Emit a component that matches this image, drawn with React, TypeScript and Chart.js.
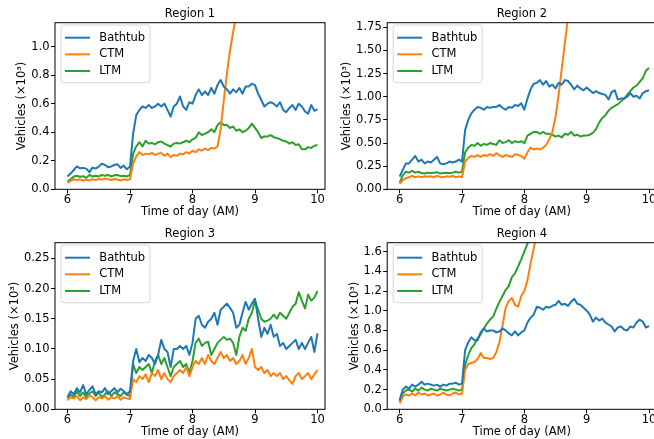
import React, { useEffect, useRef } from "react";
import { Chart, registerables } from "chart.js";

Chart.register(...registerables);

const FONT_FAMILY = '"DejaVu Sans", "Liberation Sans", sans-serif';

// Time of day (hours, AM)
const times = [
  6.00, 6.05, 6.10, 6.15, 6.20, 6.25, 6.30, 6.35, 6.40, 6.45, 6.50, 6.55, 6.60, 6.65, 6.70, 6.75, 6.80, 6.85, 6.90, 6.95,
  7.00, 7.05, 7.10, 7.15, 7.20, 7.25, 7.30, 7.35, 7.40, 7.45, 7.50, 7.55, 7.60, 7.65, 7.70, 7.75, 7.80, 7.85, 7.90, 7.95,
  8.00, 8.05, 8.10, 8.15, 8.20, 8.25, 8.30, 8.35, 8.40, 8.45, 8.50, 8.55, 8.60, 8.65, 8.70, 8.75, 8.80, 8.85, 8.90, 8.95,
  9.00, 9.05, 9.10, 9.15, 9.20, 9.25, 9.30, 9.35, 9.40, 9.45, 9.50, 9.55, 9.60, 9.65, 9.70, 9.75, 9.80, 9.85, 9.90, 9.95,
  10.00,
];

const seriesNames = ["Bathtub", "CTM", "LTM"];
const seriesColors = ["#1f77b4", "#ff7f0e", "#2ca02c"];
const xTicks = [6, 7, 8, 9, 10];
const xTitle = "Time of day (AM)";
const yTitle = "Vehicles (×10³)";

// Region 1
const r1Bathtub = [
  0.09, 0.11, 0.135, 0.16, 0.147, 0.15, 0.145, 0.12, 0.152, 0.145, 0.159, 0.18, 0.17, 0.155, 0.16, 0.17, 0.175, 0.15, 0.166, 0.14,
  0.16, 0.39, 0.52, 0.556, 0.58, 0.57, 0.59, 0.57, 0.58, 0.60, 0.58, 0.60, 0.556, 0.51, 0.58, 0.60, 0.65, 0.58, 0.556, 0.61,
  0.60, 0.66, 0.70, 0.66, 0.685, 0.66, 0.71, 0.67, 0.73, 0.766, 0.72, 0.70, 0.67, 0.70, 0.68, 0.71, 0.67, 0.72, 0.72, 0.74,
  0.73, 0.67, 0.626, 0.58, 0.60, 0.61, 0.60, 0.58, 0.61, 0.556, 0.54, 0.57, 0.59, 0.556, 0.60, 0.58, 0.545, 0.53, 0.59, 0.55,
  0.56,
];
const r1Ctm = [
  0.045, 0.06, 0.07, 0.065, 0.07, 0.06, 0.068, 0.062, 0.07, 0.065, 0.072, 0.068, 0.075, 0.07, 0.065, 0.072, 0.068, 0.062, 0.07, 0.065,
  0.07, 0.18, 0.23, 0.26, 0.24, 0.25, 0.245, 0.255, 0.24, 0.25, 0.255, 0.235, 0.25, 0.225, 0.24, 0.235, 0.25, 0.245, 0.26, 0.25,
  0.27, 0.26, 0.28, 0.27, 0.285, 0.275, 0.29, 0.285, 0.30, 0.42, 0.62, 0.81, 0.97, 1.10, 1.22, 1.36, 1.52, 1.68, 1.84, 2.00,
  2.16, 2.32, 2.48, 2.64, 2.80, 2.96, 3.12, 3.28, 3.44, 3.60, 3.76, 3.92, 4.08, 4.24, 4.40, 4.56, 4.72, 4.88, 5.04, 5.20,
  5.36,
];
const r1Ltm = [
  0.055, 0.07, 0.09, 0.095, 0.088, 0.092, 0.08, 0.10, 0.09, 0.095, 0.09, 0.10, 0.095, 0.10, 0.09, 0.098, 0.10, 0.092, 0.095, 0.09,
  0.10, 0.25, 0.30, 0.33, 0.30, 0.34, 0.32, 0.325, 0.315, 0.33, 0.335, 0.32, 0.31, 0.30, 0.32, 0.325, 0.32, 0.33, 0.34, 0.33,
  0.35, 0.36, 0.40, 0.38, 0.39, 0.40, 0.42, 0.40, 0.45, 0.47, 0.45, 0.45, 0.43, 0.44, 0.41, 0.42, 0.40, 0.41, 0.43, 0.46,
  0.43, 0.40, 0.36, 0.37, 0.37, 0.38, 0.365, 0.36, 0.35, 0.34, 0.335, 0.32, 0.33, 0.31, 0.315, 0.28, 0.28, 0.295, 0.29, 0.305,
  0.31,
];
const r1YTicks = [0, 0.2, 0.4, 0.6, 0.8, 1.0];

// Region 2
const r2Bathtub = [
  0.137, 0.21, 0.28, 0.28, 0.32, 0.36, 0.30, 0.32, 0.28, 0.30, 0.29, 0.32, 0.35, 0.28, 0.27, 0.28, 0.30, 0.29, 0.30, 0.32,
  0.30, 0.64, 0.75, 0.82, 0.86, 0.89, 0.88, 0.86, 0.89, 0.88, 0.89, 0.89, 0.91, 0.88, 0.86, 0.89, 0.88, 0.91, 0.90, 0.93,
  0.86, 0.98, 1.08, 1.14, 1.15, 1.18, 1.13, 1.17, 1.11, 1.13, 1.09, 1.15, 1.13, 1.18, 1.17, 1.13, 1.08, 1.12, 1.09, 1.07,
  1.10, 1.07, 1.04, 1.06, 1.04, 1.03, 1.02, 0.97, 1.05, 1.07, 0.97, 0.98, 0.98, 1.00, 1.04, 1.00, 1.01, 0.98, 1.04, 1.06,
  1.07,
];
const r2Ctm = [
  0.06, 0.10, 0.12, 0.13, 0.145, 0.13, 0.14, 0.13, 0.14, 0.135, 0.14, 0.13, 0.145, 0.135, 0.13, 0.14, 0.135, 0.145, 0.13, 0.14,
  0.13, 0.30, 0.34, 0.36, 0.35, 0.37, 0.35, 0.37, 0.36, 0.38, 0.36, 0.39, 0.37, 0.35, 0.37, 0.36, 0.35, 0.38, 0.37, 0.36,
  0.33, 0.40, 0.45, 0.43, 0.44, 0.43, 0.45, 0.48, 0.54, 0.62, 0.78, 1.02, 1.30, 1.58, 1.85, 2.12, 2.40, 2.68, 2.96, 3.24,
  3.52, 3.80, 4.08, 4.36, 4.64, 4.92, 5.20, 5.48, 5.76, 6.04, 6.32, 6.60, 6.88, 7.16, 7.44, 7.72, 8.00, 8.28, 8.56, 8.84,
  9.12,
];
const r2Ltm = [
  0.07, 0.15, 0.19, 0.18, 0.20, 0.18, 0.19, 0.175, 0.17, 0.18, 0.175, 0.18, 0.185, 0.17, 0.175, 0.18, 0.175, 0.18, 0.19, 0.18,
  0.19, 0.40, 0.45, 0.48, 0.47, 0.50, 0.47, 0.49, 0.48, 0.50, 0.49, 0.48, 0.53, 0.50, 0.51, 0.53, 0.50, 0.52, 0.51, 0.52,
  0.50, 0.58, 0.60, 0.62, 0.62, 0.60, 0.62, 0.60, 0.60, 0.59, 0.57, 0.58, 0.56, 0.60, 0.59, 0.62, 0.58, 0.59, 0.57, 0.58,
  0.58, 0.59, 0.61, 0.65, 0.72, 0.77, 0.80, 0.85, 0.88, 0.90, 0.92, 0.95, 0.98, 1.02, 1.06, 1.10, 1.12, 1.16, 1.20, 1.28,
  1.31,
];
const r2YTicks = [0, 0.25, 0.5, 0.75, 1.0, 1.25, 1.5, 1.75];

// Region 3
const r3Bathtub = [
  0.02, 0.03, 0.025, 0.035, 0.028, 0.04, 0.025, 0.032, 0.038, 0.025, 0.03, 0.028, 0.035, 0.025, 0.03, 0.035, 0.028, 0.034, 0.03, 0.025,
  0.03, 0.08, 0.10, 0.078, 0.085, 0.08, 0.09, 0.085, 0.075, 0.09, 0.115, 0.10, 0.095, 0.07, 0.10, 0.10, 0.105, 0.10, 0.105, 0.09,
  0.11, 0.15, 0.155, 0.14, 0.135, 0.145, 0.15, 0.16, 0.14, 0.165, 0.17, 0.175, 0.168, 0.16, 0.135, 0.14, 0.16, 0.178, 0.165, 0.175,
  0.183, 0.15, 0.12, 0.135, 0.125, 0.14, 0.12, 0.125, 0.105, 0.11, 0.10, 0.105, 0.11, 0.115, 0.10, 0.11, 0.10, 0.11, 0.12, 0.095,
  0.126,
];
const r3Ctm = [
  0.015, 0.02, 0.018, 0.022, 0.015, 0.02, 0.017, 0.023, 0.02, 0.015, 0.02, 0.018, 0.022, 0.016, 0.02, 0.018, 0.022, 0.016, 0.02, 0.018,
  0.017, 0.05, 0.045, 0.055, 0.05, 0.058, 0.045, 0.06, 0.055, 0.065, 0.05, 0.06, 0.05, 0.045, 0.055, 0.06, 0.065, 0.06, 0.07, 0.055,
  0.07, 0.08, 0.075, 0.085, 0.075, 0.09, 0.08, 0.075, 0.085, 0.095, 0.085, 0.09, 0.08, 0.085, 0.075, 0.08, 0.09, 0.075, 0.085, 0.10,
  0.07, 0.065, 0.07, 0.06, 0.065, 0.055, 0.06, 0.055, 0.06, 0.05, 0.055, 0.048, 0.042, 0.055, 0.06, 0.05, 0.055, 0.06, 0.05, 0.058,
  0.065,
];
const r3Ltm = [
  0.018, 0.025, 0.02, 0.03, 0.022, 0.028, 0.02, 0.026, 0.03, 0.022, 0.028, 0.02, 0.025, 0.03, 0.022, 0.028, 0.025, 0.022, 0.028, 0.024,
  0.022, 0.075, 0.06, 0.07, 0.065, 0.07, 0.075, 0.06, 0.08, 0.09, 0.075, 0.085, 0.07, 0.055, 0.07, 0.075, 0.08, 0.07, 0.075, 0.06,
  0.08, 0.11, 0.117, 0.105, 0.11, 0.112, 0.09, 0.10, 0.11, 0.115, 0.12, 0.115, 0.117, 0.11, 0.09, 0.12, 0.135, 0.13, 0.15, 0.16,
  0.18, 0.165, 0.15, 0.145, 0.147, 0.15, 0.157, 0.15, 0.16, 0.155, 0.15, 0.16, 0.17, 0.175, 0.194, 0.18, 0.167, 0.19, 0.18, 0.185,
  0.196,
];
const r3YTicks = [0, 0.05, 0.1, 0.15, 0.2, 0.25];

// Region 4
const r4Bathtub = [
  0.095, 0.20, 0.23, 0.21, 0.25, 0.23, 0.25, 0.28, 0.25, 0.26, 0.25, 0.24, 0.25, 0.23, 0.25, 0.24, 0.26, 0.26, 0.27, 0.25,
  0.26, 0.60, 0.68, 0.73, 0.70, 0.70, 0.78, 0.82, 0.79, 0.80, 0.80, 0.78, 0.79, 0.82, 0.80, 0.77, 0.75, 0.79, 0.75, 0.78,
  0.80, 0.88, 0.93, 0.96, 1.04, 1.03, 1.01, 1.04, 1.03, 1.05, 1.06, 1.10, 1.06, 1.07, 1.05, 1.09, 1.12, 1.07, 1.06, 1.03,
  1.00, 0.96, 0.89, 0.93, 0.90, 0.92, 0.88, 0.86, 0.84, 0.79, 0.83, 0.84, 0.81, 0.80, 0.84, 0.83, 0.88, 0.91, 0.89, 0.83,
  0.845,
];
const r4Ctm = [
  0.06, 0.13, 0.15, 0.14, 0.16, 0.14, 0.17, 0.15, 0.16, 0.14, 0.15, 0.16, 0.14, 0.15, 0.17, 0.15, 0.14, 0.16, 0.17, 0.15,
  0.16, 0.40, 0.46, 0.47, 0.48, 0.51, 0.57, 0.52, 0.52, 0.51, 0.52, 0.58, 0.68, 0.85, 1.03, 1.10, 1.13, 1.06, 1.04, 1.15,
  1.20, 1.31, 1.48, 1.63, 1.80, 1.96, 2.12, 2.28, 2.44, 2.60, 2.76, 2.92, 3.08, 3.24, 3.40, 3.56, 3.72, 3.88, 4.04, 4.20,
  4.36, 4.52, 4.68, 4.84, 5.00, 5.16, 5.32, 5.48, 5.64, 5.80, 5.96, 6.12, 6.28, 6.44, 6.60, 6.76, 6.92, 7.08, 7.24, 7.40,
  7.56,
];
const r4Ltm = [
  0.08, 0.16, 0.19, 0.20, 0.18, 0.21, 0.19, 0.22, 0.20, 0.19, 0.21, 0.20, 0.19, 0.21, 0.20, 0.19, 0.20, 0.21, 0.20, 0.19,
  0.20, 0.45, 0.55, 0.62, 0.66, 0.72, 0.76, 0.82, 0.87, 0.91, 0.94, 1.02, 1.09, 1.15, 1.21, 1.25, 1.34, 1.38, 1.45, 1.52,
  1.60, 1.68, 1.78, 1.88, 1.98, 2.08, 2.18, 2.28, 2.38, 2.48, 2.58, 2.68, 2.78, 2.88, 2.98, 3.08, 3.18, 3.28, 3.38, 3.48,
  3.58, 3.68, 3.78, 3.88, 3.98, 4.08, 4.18, 4.28, 4.38, 4.48, 4.58, 4.68, 4.78, 4.88, 4.98, 5.08, 5.18, 5.28, 5.38, 5.48,
  5.58,
];
const r4YTicks = [0, 0.2, 0.4, 0.6, 0.8, 1.0, 1.2, 1.4, 1.6];

const regionTitles = ["Region 1", "Region 2", "Region 3", "Region 4"];
const regionSeries = [
  [r1Bathtub, r1Ctm, r1Ltm],
  [r2Bathtub, r2Ctm, r2Ltm],
  [r3Bathtub, r3Ctm, r3Ltm],
  [r4Bathtub, r4Ctm, r4Ltm],
];
const regionYTicks = [r1YTicks, r2YTicks, r3YTicks, r4YTicks];
const regionYMax = [1.167, 1.8, 0.276, 1.69];
const regionDecimals = [1, 2, 2, 1];

// Layout (pixels) for each panel canvas
const layoutCfg = [
  { left: 0, top: 0, yAxisWidth: 55, padRight: 5, yTitlePad: 15.6 },
  { left: 330, top: 0, yAxisWidth: 57.2, padRight: 3.5, yTitlePad: 10.3 },
  { left: 0, top: 220, yAxisWidth: 55, padRight: 5, yTitlePad: 8.1 },
  { left: 330, top: 220, yAxisWidth: 57.2, padRight: 3.5, yTitlePad: 17.8 },
];
const CANVAS_W = 330;
const CANVAS_H = 220;
const FONT_SIZE = 11.5;

const framePlugin = {
  id: "frame",
  afterDraw(chart: any) {
    const { ctx, chartArea } = chart;
    const { left, top, right, bottom } = chartArea;
    ctx.save();
    ctx.strokeStyle = "#000";
    ctx.lineWidth = 1;
    ctx.strokeRect(left, top, right - left, bottom - top);
    ctx.restore();
  },
};

const legendPlugin = {
  id: "mplLegend",
  afterDatasetsDraw(chart: any) {
    const { ctx, chartArea } = chart;
    const { left, top } = chartArea;
    ctx.save();
    ctx.beginPath();
    ctx.roundRect(left + 6, top + 2.3, 89, 57.7, 3);
    ctx.fillStyle = "rgba(255,255,255,0.8)";
    ctx.fill();
    ctx.strokeStyle = "rgba(204,204,204,0.8)";
    ctx.lineWidth = 1;
    ctx.stroke();
    ctx.font = `${FONT_SIZE}px ${FONT_FAMILY}`;
    ctx.textBaseline = "middle";
    ctx.textAlign = "left";
    chart.data.datasets.forEach((ds: any, i: number) => {
      const y = top + 15 + i * 16.65;
      ctx.beginPath();
      ctx.moveTo(left + 10, y);
      ctx.lineTo(left + 35, y);
      ctx.strokeStyle = ds.borderColor;
      ctx.lineWidth = 2;
      ctx.stroke();
      ctx.fillStyle = "#000";
      ctx.fillText(ds.label, left + 44.3, y);
    });
    ctx.restore();
  },
};

function Panel({ index }: { index: number }) {
  const ref = useRef<HTMLCanvasElement | null>(null);
  useEffect(() => {
    if (!ref.current) return;
    const cfg = layoutCfg[index];
    const yTicks = regionYTicks[index];
    const decimals = regionDecimals[index];
    const font = { family: FONT_FAMILY, size: FONT_SIZE, weight: "normal" as const, lineHeight: 1.2 };
    const tickFont = { family: FONT_FAMILY, size: FONT_SIZE, weight: "normal" as const, lineHeight: 1 };
    const chart = new Chart(ref.current, {
      type: "line",
      data: {
        datasets: regionSeries[index].map((vals, i) => ({
          label: seriesNames[i],
          data: times.map((t, j) => ({ x: t, y: vals[j] })),
          borderColor: seriesColors[i],
          backgroundColor: seriesColors[i],
          borderWidth: 2,
          borderJoinStyle: "round" as const,
          pointRadius: 0,
          tension: 0,
          fill: false,
          clip: 0,
        })),
      },
      options: {
        animation: false,
        responsive: false,
        maintainAspectRatio: false,
        events: [],
        layout: { padding: { left: 0, top: 0, right: cfg.padRight, bottom: 0 } },
        plugins: {
          legend: { display: false },
          tooltip: { enabled: false },
          title: {
            display: true,
            text: regionTitles[index],
            fullSize: false,
            color: "#000",
            font,
            padding: { top: 7.4, bottom: 1.5 },
          },
        },
        scales: {
          x: {
            type: "linear",
            min: 5.8,
            max: 10.12,
            afterBuildTicks: (s: any) => {
              s.ticks = xTicks.map((v) => ({ value: v }));
            },
            afterFit: (s: any) => {
              s.height = 30.7;
            },
            ticks: { color: "#000", font: tickFont, padding: 0.5, maxRotation: 0, autoSkip: false, callback: (v: any) => String(v) },
            grid: { display: true, drawOnChartArea: false, drawTicks: true, tickLength: 4, color: "#000", lineWidth: 1 },
            border: { display: false },
            title: { display: true, text: xTitle, color: "#000", font, padding: { top: 0, bottom: 0.6 } },
          },
          y: {
            type: "linear",
            min: 0,
            max: regionYMax[index],
            afterBuildTicks: (s: any) => {
              s.ticks = yTicks.map((v) => ({ value: v }));
            },
            afterFit: (s: any) => {
              s.width = cfg.yAxisWidth;
            },
            ticks: { color: "#000", font: tickFont, padding: 1.5, autoSkip: false, callback: (v: any) => Number(v).toFixed(decimals) },
            grid: { display: true, drawOnChartArea: false, drawTicks: true, tickLength: 4, color: "#000", lineWidth: 1 },
            border: { display: false },
            title: { display: true, text: yTitle, color: "#000", font, padding: { top: cfg.yTitlePad, bottom: 0 } },
          },
        },
      },
      plugins: [legendPlugin, framePlugin],
    } as any);
    return () => chart.destroy();
  }, [index]);
  const cfg = layoutCfg[index];
  return (
    <canvas
      ref={ref}
      width={CANVAS_W}
      height={CANVAS_H}
      style={{ position: "absolute", left: cfg.left, top: cfg.top, width: CANVAS_W, height: CANVAS_H }}
    />
  );
}

export default function App() {
  return (
    <div style={{ position: "fixed", left: 0, top: 0, width: 654, height: 439, overflow: "hidden", background: "#fff" }}>
      {regionTitles.map((_, i) => (
        <Panel key={i} index={i} />
      ))}
    </div>
  );
}
